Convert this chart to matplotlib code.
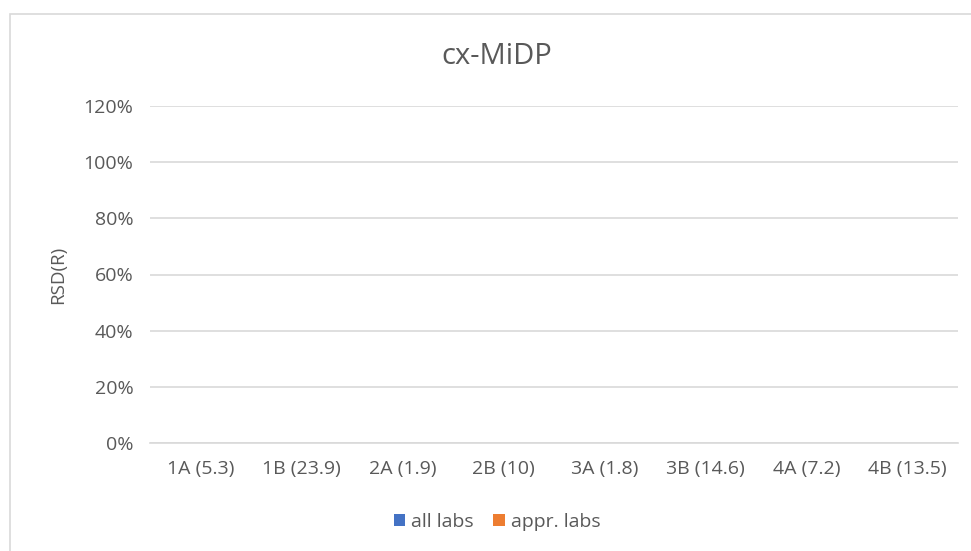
import matplotlib.pyplot as plt
import numpy as np
from matplotlib.patches import Rectangle

# Data (no visible bars in the reference: all values are zero)
categories = ['1A (5.3)', '1B (23.9)', '2A (1.9)', '2B (10)',
              '3A (1.8)', '3B (14.6)', '4A (7.2)', '4B (13.5)']
all_labs = [0, 0, 0, 0, 0, 0, 0, 0]
appr_labs = [0, 0, 0, 0, 0, 0, 0, 0]
yticks = [0, 0.2, 0.4, 0.6, 0.8, 1.0, 1.2]
ytick_labels = ['0%', '20%', '40%', '60%', '80%', '100%', '120%']

plt.rcParams['font.family'] = ['Open Sans', 'DejaVu Sans']
text_color = '#595959'
grid_color = '#d9d9d9'

fig = plt.figure(figsize=(9.71, 5.51), dpi=100)

# Chart-area border (extends beyond right/bottom edges as in reference)
fig.patches.append(Rectangle((10 / 971, -0.1), 1.2, 1 - 14 / 551 + 0.1,
                             transform=fig.transFigure, fill=False,
                             edgecolor=grid_color, linewidth=1.2))

ax = fig.add_axes([150 / 971, 1 - 443 / 551, (958 - 150) / 971, (443 - 106) / 551])

x = np.arange(len(categories))
w = 0.3
ax.bar(x - w / 2, all_labs, w, color='#4472C4', linewidth=0, label='all labs')
ax.bar(x + w / 2, appr_labs, w, color='#ED7D31', linewidth=0, label='appr. labs')

ax.set_xlim(-0.5, len(categories) - 0.5)
ax.set_ylim(0, 1.2)
ax.set_yticks(yticks)
ax.set_yticklabels(ytick_labels)
ax.set_xticks(x)
ax.set_xticklabels(categories)
ax.yaxis.grid(True, color=grid_color, linewidth=1.2)
ax.set_axisbelow(True)
for s in ['top', 'right', 'left']:
    ax.spines[s].set_visible(False)
ax.spines['bottom'].set_color(grid_color)
ax.spines['bottom'].set_linewidth(1.2)
ax.tick_params(axis='both', length=0, colors=text_color, labelsize=14)
ax.tick_params(axis='y', pad=12)
ax.tick_params(axis='x', pad=12)

ax.set_ylabel('RSD(R)', color=text_color, fontsize=13.5, labelpad=12)
fig.text(497 / 971, 1 - 57 / 551, 'cx-MiDP', ha='center', va='center',
         fontsize=21, color=text_color)

leg = fig.legend(loc='center', bbox_to_anchor=(497 / 971, 1 - 522 / 551), ncol=2,
                 frameon=False, fontsize=14, handlelength=0.6, handleheight=0.6,
                 handletextpad=0.3, columnspacing=1.0)
for t in leg.get_texts():
    t.set_color(text_color)

plt.savefig('out.png', dpi=100)
plt.close()
